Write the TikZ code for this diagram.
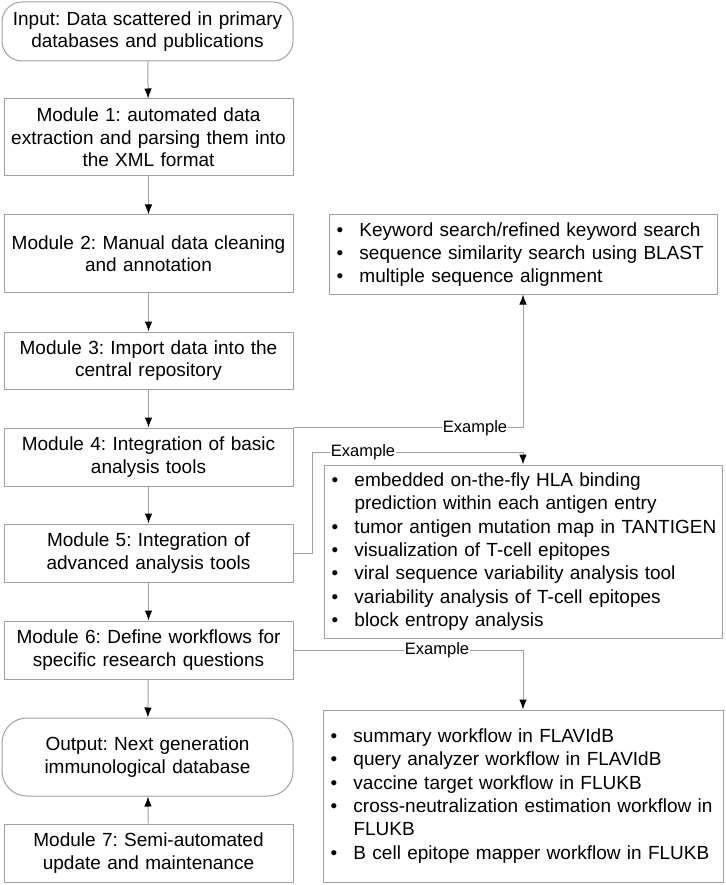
\documentclass[tikz,border=0pt]{standalone}
\usepackage{fontspec}
\setmainfont{Liberation Sans}
\usetikzlibrary{arrows.meta}
\definecolor{edgegray}{HTML}{A0A0A0}
\frenchspacing
\begin{document}
\begin{tikzpicture}[x=1pt,y=-1pt,
  box/.style={draw=edgegray, line width=1pt, rectangle, minimum width=289pt, inner sep=2pt,
    text width=283pt, align=center, font=\fontsize{19}{22.5}\selectfont},
  rbox/.style={box, rounded corners=20pt, minimum width=291pt},
  listbox/.style={draw=edgegray, line width=1pt, rectangle, inner xsep=7.5pt, inner ysep=0pt,
    align=left, font=\fontsize{19}{23.3}\selectfont},
  arr/.style={draw=edgegray, line width=1pt, -{Latex[length=10pt,width=7.5pt,color=black]}},
  lbl/.style={fill=white, inner sep=1pt, font=\fontsize{16.5}{18}\selectfont}
]
\useasboundingbox (0,0) rectangle (725,885);
\newcommand{\bul}[1]{\mbox{\makebox[23pt][l]{\textbullet}#1}}
\newcommand{\cont}[1]{\mbox{\hspace*{23pt}#1}}

\node[rbox, minimum height=59pt] (in) at (147.5,31.5) {Input: Data scattered in primary\\databases and publications};
\node[box, minimum height=77pt] (m1) at (148.5,137.5) {Module 1: automated data\\extraction and parsing them into\\the XML format};
\node[box, minimum height=77pt] (m2) at (148.5,253.5) {Module 2: Manual data cleaning\\and annotation};
\node[box, minimum height=57pt] (m3) at (148.5,360.5) {Module 3: Import data into the\\central repository};
\node[box, minimum height=58pt] (m4) at (148.5,457) {Module 4: Integration of basic\\analysis tools};
\node[box, minimum height=58pt] (m5) at (148.5,553) {Module 5: Integration of\\advanced analysis tools};
\node[box, minimum height=58pt] (m6) at (148.5,650) {Module 6: Define workflows for\\specific research questions};
\node[rbox, minimum height=78pt, rounded corners=25pt] (out) at (147.5,757) {Output: Next generation\\immunological database};
\node[box, minimum height=58pt] (m7) at (148.5,853) {Module 7: Semi-automated\\update and maintenance};

\node[listbox, minimum width=388pt, minimum height=79pt, text width=373pt] (b1) at (523,254.5)
 {\bul{Keyword search/refined keyword search}\\
  \bul{sequence similarity search using BLAST}\\
  \bul{multiple sequence alignment}};
\node[listbox, minimum width=398pt, minimum height=173pt, text width=383pt] (b2) at (523,551.5)
 {\bul{embedded on-the-fly HLA binding}\\
  \cont{prediction within each antigen entry}\\
  \bul{tumor antigen mutation map in TANTIGEN}\\
  \bul{visualization of T-cell epitopes}\\
  \bul{viral sequence variability analysis tool}\\
  \bul{variability analysis of T-cell epitopes}\\
  \bul{block entropy analysis}};
\node[listbox, minimum width=400pt, minimum height=172pt, text width=385pt] (b3) at (523,796)
 {\bul{summary workflow in FLAVIdB}\\
  \bul{query analyzer workflow in FLAVIdB}\\
  \bul{vaccine target workflow in FLUKB}\\
  \bul{cross-neutralization estimation workflow in}\\
  \cont{FLUKB}\\
  \bul{B cell epitope mapper workflow in FLUKB}};

\draw[arr] (in) -- (m1);
\draw[arr] (m1) -- (m2);
\draw[arr] (m2) -- (m3);
\draw[arr] (m3) -- (m4);
\draw[arr] (m4) -- (m5);
\draw[arr] (m5) -- (m6);
\draw[arr] (m6) -- (out);
\draw[arr] (m7) -- (out);

\draw[arr] (m4.north east) -| (b1.south);
\node[lbl] (e1) at (475,428) {Example};

\coordinate (c2) at (312,452);
\draw[arr] (m5.east) -| (c2) -| (b2.north);
\node[lbl] (e2) at (363,452) {Example};

\draw[arr] (m6.east) -| (b3.north);
\node[lbl] (e3) at (437,650) {Example};
\end{tikzpicture}
\end{document}
